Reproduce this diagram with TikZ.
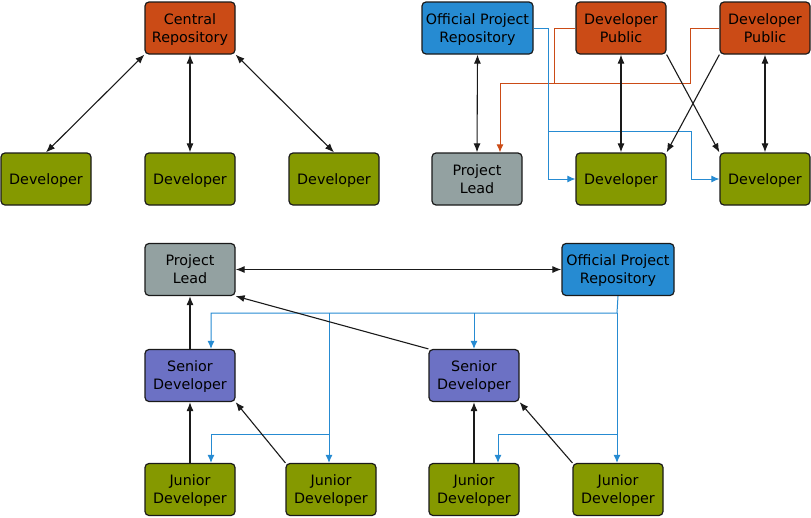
\documentclass[tikz,border=0pt]{standalone}
\usepackage{fontspec}
\setmainfont{DejaVu Sans}
\usetikzlibrary{arrows.meta}
\definecolor{solorange}{HTML}{CB4B16}
\definecolor{solgreen}{HTML}{859900}
\definecolor{solblue}{HTML}{268BD2}
\definecolor{solgray}{HTML}{93A1A1}
\definecolor{solviolet}{HTML}{6C71C4}
\definecolor{edge}{HTML}{1A1A1A}
\begin{document}
\begin{tikzpicture}[x=1pt,y=-1pt,
  box/.style={rectangle, rounded corners=4pt, draw=edge, line width=1.2pt, minimum width=90pt, minimum height=52pt, inner sep=0pt, align=center, text depth=0pt, font=\fontsize{14.3}{18}\selectfont},
  wide/.style={box, minimum width=111pt},
  sgl/.style={-{Latex[length=9pt,width=7pt]}, line width=1.1pt, edge},
  dbl/.style={{Latex[length=9pt,width=7pt]}-{Latex[length=9pt,width=7pt]}, line width=1.1pt, edge},
  bline/.style={line width=1pt, solblue},
  barrow/.style={bline, -{Latex[length=8pt,width=7pt]}},
  oline/.style={line width=1pt, solorange},
  oarrow/.style={oline, -{Latex[length=8pt,width=7pt]}}]
\useasboundingbox (0,0) rectangle (811,517);
% centralised
\node [box, fill=solorange] (central) at (190,28) {Central\\Repository};
\node [box, fill=solgreen] (cdev1) at (46,179) {Developer};
\node [box, fill=solgreen] (cdev2) at (190,179) {Developer};
\node [box, fill=solgreen] (cdev3) at (334,179) {Developer};
\draw [dbl] (central.south west) -- (cdev1.north);
\draw [dbl] (central.south) -- (cdev2.north);
\draw [dbl] (central.south east) -- (cdev3.north);
% integration manager
\node [wide, fill=solblue] (opr) at (477.5,28) {Official Project\\Repository};
\node [box, fill=solorange] (pub1) at (621,28) {Developer\\Public};
\node [box, fill=solorange] (pub2) at (765,28) {Developer\\Public};
\node [box, fill=solgray] (lead) at (477,179) {Project\\Lead};
\node [box, fill=solgreen] (idev1) at (621,179) {Developer};
\node [box, fill=solgreen] (idev2) at (765,179) {Developer};
\coordinate (ojoin) at (500,83);
\coordinate (bsplit) at (548,131);
\draw [oline] (pub2.west) -- ++(-29,0) |- (ojoin);
\draw [oarrow] (pub1.west) -- ++(-21,0) |- (ojoin) -- (ojoin |- lead.north);
\draw [barrow] (opr.east) -- ++(15,0) |- (idev1.west);
\draw [barrow] (bsplit) -- ++(143,0) |- (idev2.west);
\draw [dbl] (opr.south) -- (lead.north);
\draw [dbl] (pub1.south) -- (idev1.north);
\draw [dbl] (pub2.south) -- (idev2.north);
\draw [sgl] (pub1.south east) -- (idev2.north west);
\draw [sgl] (pub2.south west) -- (idev1.north east);
% dictator and lieutenants
\node [box, fill=solgray] (dict) at (190,269.5) {Project\\Lead};
\node [wide, fill=solblue, minimum width=112pt] (dopr) at (618,269.5) {Official Project\\Repository};
\node [box, fill=solviolet] (sen1) at (190,375.5) {Senior\\Developer};
\node [box, fill=solviolet] (sen2) at (474,375.5) {Senior\\Developer};
\node [box, fill=solgreen] (jun1) at (190,489.5) {Junior\\Developer};
\node [box, fill=solgreen] (jun2) at (331,489.5) {Junior\\Developer};
\node [box, fill=solgreen] (jun3) at (474,489.5) {Junior\\Developer};
\node [box, fill=solgreen] (jun4) at (618,489.5) {Junior\\Developer};
\coordinate (b1) at (211,313);
\coordinate (b2) at (617,313);
\coordinate (b3) at (329,313);
\coordinate (b4) at (329,434);
\coordinate (b5) at (211,434);
\coordinate (b6) at (617,434);
\coordinate (b7) at (498,434);
\draw [barrow] (dopr.south) -- (b2) -- (b1) -- (b1 |- sen1.north);
\draw [barrow] (sen2.north |- b1) -- (sen2.north);
\draw [barrow] (b3) -- (b3 |- jun2.north);
\draw [barrow] (b4) -- (b5) -- (b5 |- jun1.north);
\draw [barrow] (b2) -- (b2 |- jun4.north);
\draw [barrow] (b6) -- (b7) -- (b7 |- jun3.north);
\draw [dbl] (dict.east) -- (dopr.west);
\draw [sgl] (sen1.north) -- (dict.south);
\draw [sgl] (sen2.north west) -- (dict.south east);
\draw [sgl] (jun1.north) -- (sen1.south);
\draw [sgl] (jun2.north west) -- (sen1.south east);
\draw [sgl] (jun3.north) -- (sen2.south);
\draw [sgl] (jun4.north west) -- (sen2.south east);
\end{tikzpicture}
\end{document}
